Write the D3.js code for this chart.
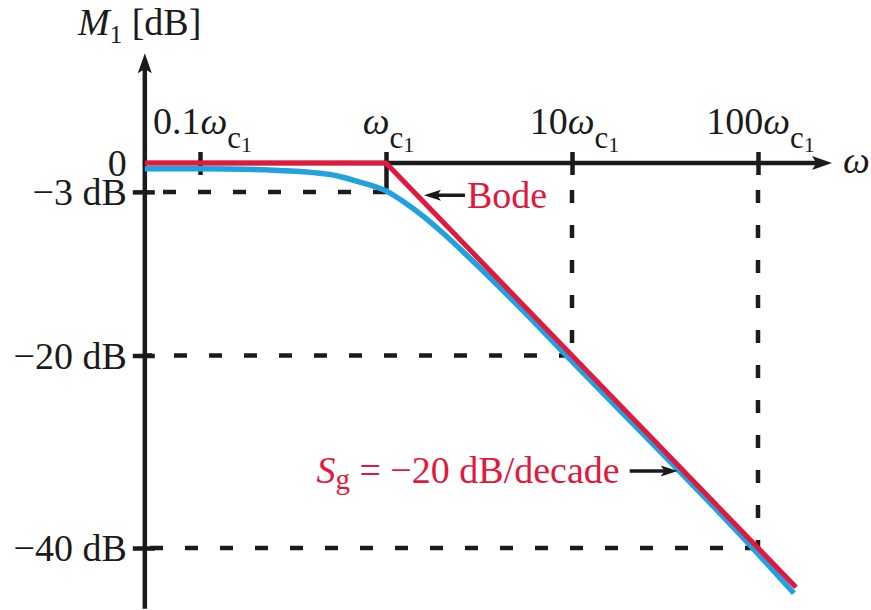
<!DOCTYPE html>
<html><head><meta charset="utf-8">
<script src="https://cdn.jsdelivr.net/npm/d3@7"></script>
<style>
html,body{margin:0;padding:0;background:#fff;}
svg{display:block;font-family:"Liberation Serif","Times New Roman",serif;}
</style></head><body>
<svg id="chart" width="871" height="610"></svg>
<script>
// Frequency ticks, as multiples of the corner frequency ω_c1
const xTickValues = [0.1, 1, 10, 100];
const xTickPrefixes = ["0.1", "", "10", "100"];
// Magnitude ticks in dB
const yTickValues = [0, -3, -20, -40];
const yTickLabels = ["0", "−3 dB", "−20 dB", "−40 dB"];
// Bode straight-line asymptote: flat up to ω_c1, then −20 dB/decade
const bodeOmega = [0.0505, 1, 160];
const bodeDb = [0, 0, -44.08];
// Actual magnitude response
const actualOmega = [0.0505, 0.1, 0.25, 0.5, 0.7, 1, 1.26, 1.6, 2, 3.2, 5, 10, 100, 156];
const actualDb = [-0.6, -0.6, -0.75, -1.2, -1.9, -2.9, -4.1, -5.6, -7.2, -10.9, -14.6, -20.6, -40.6, -44.7];
// Dashed guides meeting the curve at (ω, dB)
const guideOmega = [1, 10, 100];
const guideDb = [-3, -20, -40];

const RED = "#e2183c", BLUE = "#20a2e0", INK = "#1b1b1b";
const FS = 38;

const svg = d3.select("#chart");
const x = d3.scaleLog().domain([0.1, 100]).range([200, 758]);
const y = d3.scaleLinear().domain([0, -40]).range([163, 548]);

// axis extents in data units
const omegaOrigin = 0.0505, omegaEnd = 250;
const dbTop = 11.4, dbBottom = -46.3;
const x0 = x(omegaOrigin), y0 = y(0);

function arrowHead(g, tx, ty, angle, len, half, color) {
  const c = Math.cos(angle), s = Math.sin(angle);
  const p = (a, b) => [tx - a * c - b * s, ty - a * s + b * c];
  const pts = [[tx, ty], p(len, half), p(len * 0.78, 0), p(len, -half)];
  g.append("path").attr("d", "M" + pts.map(q => q.join(",")).join("L") + "Z")
    .attr("fill", color);
}

// dashed guides
const guides = guideOmega.map((w, i) => ({ w, db: guideDb[i] }));
svg.append("g").selectAll("line").data(guides).join("line")
  .attr("x1", d => x(d.w)).attr("x2", x0)
  .attr("y1", d => y(d.db)).attr("y2", d => y(d.db))
  .attr("stroke", INK).attr("stroke-width", 4.5).attr("stroke-dasharray", "13 22");
svg.append("g").selectAll("line").data(guides.filter(d => d.w > 1)).join("line")
  .attr("x1", d => x(d.w)).attr("x2", d => x(d.w))
  .attr("y1", y0 + 27).attr("y2", d => y(d.db))
  .attr("stroke", INK).attr("stroke-width", 4.5).attr("stroke-dasharray", "13 22");

// y axis ticks and labels
const yAxis = svg.append("g").attr("transform", `translate(${x0},0)`)
  .call(d3.axisLeft(y).tickValues(yTickValues)
    .tickFormat((d, i) => yTickLabels[i]).tickSize(12).tickPadding(6))
  .attr("font-family", null).attr("font-size", FS);
yAxis.select(".domain").remove();
yAxis.selectAll(".tick line").attr("x1", 10).attr("stroke", INK).attr("stroke-width", 4.5)
  .filter(d => d === 0).remove();
yAxis.selectAll(".tick text").attr("fill", INK).attr("dy", "0.33em");

// x axis ticks and labels
const xAxis = svg.append("g").attr("transform", `translate(0,${y0})`)
  .call(d3.axisTop(x).tickValues(xTickValues).tickFormat("").tickSize(11).tickPadding(18))
  .attr("font-family", null).attr("font-size", FS);
xAxis.select(".domain").remove();
xAxis.selectAll(".tick line").attr("stroke", INK).attr("stroke-width", 4.5)
  .attr("y1", d => d === 1 ? y(-3) - y0 - 3 : 12);
xAxis.selectAll(".tick text").each(function (d, i) {
  const t = d3.select(this).attr("fill", INK).attr("x", 2).attr("dy", 0);
  t.text(null);
  if (xTickPrefixes[i]) t.append("tspan").text(xTickPrefixes[i]);
  t.append("tspan").attr("font-style", "italic").text("ω");
  t.append("tspan").attr("font-size", 31).attr("dy", 14).text("c");
  t.append("tspan").attr("font-size", 22).attr("dy", 4).text("1");
});

// axis lines with arrow heads
const axes = svg.append("g");
axes.append("line").attr("x1", x0).attr("x2", x0)
  .attr("y1", y(dbBottom)).attr("y2", y(dbTop) + 12)
  .attr("stroke", INK).attr("stroke-width", 4.5);
arrowHead(axes, x0, y(dbTop), -Math.PI / 2, 20, 7, INK);
axes.append("line").attr("x1", x0 - 2).attr("x2", x(omegaEnd) - 12)
  .attr("y1", y0).attr("y2", y0)
  .attr("stroke", INK).attr("stroke-width", 4.5);
arrowHead(axes, x(omegaEnd), y0, 0, 20, 7, INK);

// curves
const line = d3.line().x(d => x(d[0])).y(d => y(d[1]));
svg.append("path")
  .datum(actualOmega.map((w, i) => [w, actualDb[i]]))
  .attr("d", line.curve(d3.curveMonotoneX))
  .attr("fill", "none").attr("stroke", BLUE).attr("stroke-width", 5.5);
svg.append("path")
  .datum(bodeOmega.map((w, i) => [w, bodeDb[i]]))
  .attr("d", line.curve(d3.curveLinear))
  .attr("fill", "none").attr("stroke", RED).attr("stroke-width", 5);

// axis titles
const yTitle = svg.append("text").attr("x", 78).attr("y", 35)
  .attr("font-size", FS).attr("fill", INK);
yTitle.append("tspan").attr("font-style", "italic").text("M");
yTitle.append("tspan").attr("font-size", 25).attr("dy", 8).text("1");
yTitle.append("tspan").attr("dy", -8).text(" [dB]");

svg.append("text").attr("x", x(omegaEnd) + 11).attr("y", y0 + 10)
  .attr("font-size", FS).attr("font-style", "italic").attr("fill", INK).text("ω");

// annotation: Bode
const ann = svg.append("g");
const bx = x(1.6), by = y(-3.35);
ann.append("line").attr("x1", bx + 10).attr("x2", bx + 41).attr("y1", by).attr("y2", by)
  .attr("stroke", INK).attr("stroke-width", 3.5);
arrowHead(ann, bx, by, Math.PI, 17, 5.5, INK);
ann.append("text").attr("x", bx + 43).attr("y", by + 13)
  .attr("font-size", FS).attr("fill", RED).text("Bode");

// annotation: slope
const sx = x(37), sy = y(-32);
ann.append("line").attr("x1", sx - 48).attr("x2", sx - 10).attr("y1", sy).attr("y2", sy)
  .attr("stroke", INK).attr("stroke-width", 3.5);
arrowHead(ann, sx, sy, 0, 17, 5.5, INK);
const st = ann.append("text").attr("x", sx - 58).attr("y", sy + 12)
  .attr("text-anchor", "end").attr("font-size", FS).attr("fill", RED);
st.append("tspan").attr("font-style", "italic").text("S");
st.append("tspan").attr("font-size", 29).attr("dy", 6).text("g");
st.append("tspan").attr("dy", -6).text(" = −20 dB/decade");
</script>
</body></html>
